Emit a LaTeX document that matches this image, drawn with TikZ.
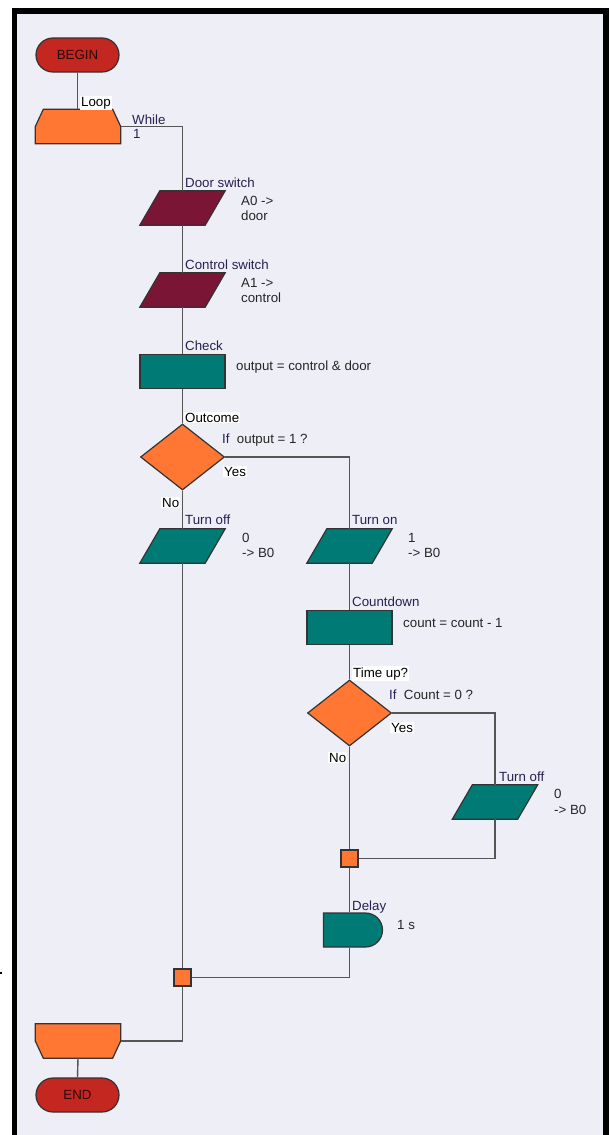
\documentclass[tikz,border=0pt]{standalone}
\usepackage{fontspec}
\setmainfont{Liberation Sans}
\usetikzlibrary{shapes.geometric,shapes.misc}
\definecolor{bgcol}{HTML}{EEEEF7}
\definecolor{redfill}{HTML}{C42620}
\definecolor{orangefill}{HTML}{FF7733}
\definecolor{maroonfill}{HTML}{7A1535}
\definecolor{tealfill}{HTML}{007A74}
\definecolor{bordercol}{HTML}{333333}
\definecolor{linecol}{HTML}{555555}
\definecolor{navytext}{HTML}{2A1F4F}
\definecolor{termtext}{HTML}{2B0A0A}
\begin{document}
\begin{tikzpicture}[x=1pt,y=-1pt,
  every node/.style={font=\fontsize{13.3}{15}\selectfont},
  shp/.style={draw=bordercol, line width=1.2pt, inner sep=0pt},
  shpd/.style={draw=bordercol, line width=1.2pt, line join=miter},
  box/.style={rectangle, inner sep=0pt, minimum width=85pt, minimum height=34pt},
  term/.style={shp, rectangle, rounded corners=17pt, minimum width=83pt, minimum height=34pt, fill=redfill, text=termtext},
  proc/.style={shp, rectangle, minimum width=85pt, minimum height=34pt, fill=tealfill},
  dec/.style={shp, diamond, minimum width=84pt, minimum height=66pt, fill=orangefill},
  junc/.style={shp, rectangle, minimum width=17pt, minimum height=17pt, fill=orangefill},
  delaybox/.style={shp, rounded rectangle, rounded rectangle left arc=none, minimum width=59pt, minimum height=34pt, fill=tealfill},
  conn/.style={draw=linecol, line width=1.4pt},
  lbl/.style={anchor=base west, inner sep=0pt, text=navytext},
  blbl/.style={anchor=base west, inner sep=1pt, text=black, fill=white},
  txt/.style={anchor=base west, inner sep=0pt, text=black!85}
]
\useasboundingbox (0,0) rectangle (611,1135);
\fill[white] (0,0) rectangle (611,1135);
\fill[black] (12,8) rectangle (609,1135);
\fill[bgcol] (17,14) rectangle (603,1135);
\fill[black] (0,972) rectangle (2,974);

% shapes
\node[term] (begin) at (77.5,55) {BEGIN};
\node[box] (loop) at (78,126.5) {};
\filldraw[shpd, fill=orangefill] (loop.south west) -- (loop.west) -- ([xshift=8pt]loop.north west) -- ([xshift=-8pt]loop.north east) -- (loop.east) -- (loop.south east) -- cycle;
\node[box] (door) at (182.5,208) {};
\node[box] (ctrl) at (182.5,290) {};
\node[proc] (check) at (182.5,371.5) {};
\node[dec] (outcome) at (182.5,457) {};
\node[box] (off1) at (182.5,546) {};
\node[box] (on) at (349.5,546) {};
\node[proc] (count) at (349.5,627.5) {};
\node[dec] (timeup) at (349.5,713) {};
\node[box] (off2) at (495,802) {};
\foreach \n/\c in {door/maroonfill, ctrl/maroonfill, off1/tealfill, on/tealfill, off2/tealfill}
  \filldraw[shpd, fill=\c] ([xshift=20pt]\n.north west) -- (\n.north east) -- ([xshift=-20pt]\n.south east) -- (\n.south west) -- cycle;
\node[junc] (j1) at (349.5,858.5) {};
\node[delaybox] (delay) at (353,930) {};
\node[junc] (j2) at (182.5,977.5) {};
\node[box] (lend) at (78,1041) {};
\filldraw[shpd, fill=orangefill] (lend.north west) -- (lend.west) -- ([xshift=8pt]lend.south west) -- ([xshift=-8pt]lend.south east) -- (lend.east) -- (lend.north east) -- cycle;
\node[term] (end) at (77.5,1095) {END};

% connectors
\draw[conn] (begin.south) -- (begin.south |- loop.north);
\draw[conn] (loop.east) -| (door.north);
\draw[conn] (door.south) -- (ctrl.north);
\draw[conn] (ctrl.south) -- (check.north);
\draw[conn] (check.south) -- (outcome.north);
\draw[conn] (outcome.east) -| (on.north);
\draw[conn] (outcome.south) -- (off1.north);
\draw[conn] (off1.south) -- (j2.north);
\draw[conn] (on.south) -- (count.north);
\draw[conn] (count.south) -- (timeup.north);
\draw[conn] (timeup.east) -| (off2.north);
\draw[conn] (timeup.south) -- (j1.north);
\draw[conn] (off2.south) |- (j1.east);
\draw[conn] (j1.south) -- (j1.south |- delay.north);
\draw[conn] (j1.south |- delay.south) |- (j2.east);
\draw[conn] (j2.south) |- (lend.east);
\draw[conn] (lend.south) -- (end.north);

% labels
\node[blbl] (tLoop) at (80,106) {Loop};
\node[lbl] (tWhile) at (132,124) {While};
\node[lbl] (tWhile1) at (133,138) {1};
\node[lbl] (tDoor) at (185,187) {Door switch};
\node[txt] (tA0a) at (241,205) {A0 ->};
\node[txt] (tA0b) at (241,220) {door};
\node[lbl] (tCtrl) at (185,269) {Control switch};
\node[txt] (tA1a) at (241,287) {A1 ->};
\node[txt] (tA1b) at (241,302) {control};
\node[lbl] (tCheck) at (185,350) {Check};
\node[txt] (tOut) at (236,370) {output = control \& door};
\node[blbl] (tOutcome) at (184,422) {Outcome};
\node[txt] (tIf1) at (222,443) {\textcolor{navytext}{If}\ \ output = 1 ?};
\node[blbl] (tYes1) at (223,476) {Yes};
\node[blbl] (tNo1) at (161,507) {No};
\node[lbl] (tOff1) at (185,524) {Turn off};
\node[txt] (tOff1a) at (242,542) {0};
\node[txt] (tOff1b) at (242,557) {-> B0};
\node[lbl] (tOn) at (352,524) {Turn on};
\node[txt] (tOna) at (408,542) {1};
\node[txt] (tOnb) at (408,557) {-> B0};
\node[lbl] (tCount) at (352,606) {Countdown};
\node[txt] (tCnt) at (403,627) {count = count - 1};
\node[blbl] (tTime) at (352,677) {Time up?};
\node[txt] (tIf2) at (389,699) {\textcolor{navytext}{If}\ \ Count = 0 ?};
\node[blbl] (tYes2) at (390,732) {Yes};
\node[blbl] (tNo2) at (328,762) {No};
\node[lbl] (tOff2) at (499,781) {Turn off};
\node[txt] (tOff2a) at (554,798) {0};
\node[txt] (tOff2b) at (554,814) {-> B0};
\node[lbl] (tDelay) at (352,910) {Delay};
\node[txt] (tDel) at (397,929) {1 s};
\end{tikzpicture}
\end{document}
